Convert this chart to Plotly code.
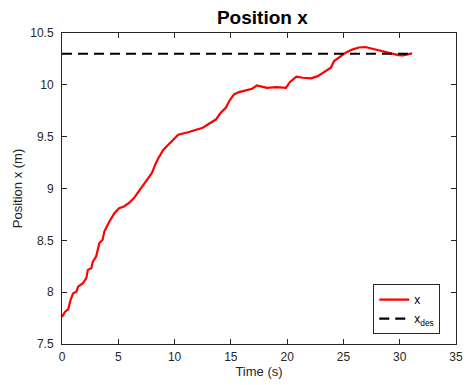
import plotly.graph_objects as go

t = [0.0, 0.26, 0.55, 0.76, 0.99, 1.28, 1.43, 1.86, 2.16, 2.3, 2.6, 2.74, 3.03, 3.18, 3.32,
     3.61, 3.76, 4.2, 4.64, 5.07, 5.51, 5.95, 6.39, 6.82, 7.26, 7.7, 7.99, 8.28, 8.57, 9.01,
     9.45, 9.89, 10.32, 11.2, 12.07, 12.5, 12.95, 13.67, 14.1, 14.55, 14.85, 15.28, 15.72,
     16.3, 16.89, 17.32, 18.2, 19.07, 19.89, 20.24, 20.82, 21.4, 22.13, 22.72, 23.3, 23.88,
     24.17, 24.61, 25.05, 25.2, 25.78, 26.36, 26.95, 27.53, 28.12, 28.7, 29.28, 29.87, 30.3,
     30.74, 31.1]
x = [7.76, 7.81, 7.835, 7.925, 7.99, 8.005, 8.053, 8.086, 8.135, 8.215, 8.231, 8.295, 8.343, 8.41, 8.473,
     8.505, 8.585, 8.68, 8.76, 8.81, 8.827, 8.86, 8.908, 8.972, 9.037, 9.1, 9.15, 9.23, 9.295, 9.375,
     9.42, 9.468, 9.518, 9.543, 9.569, 9.585, 9.617, 9.665, 9.73, 9.778, 9.842, 9.907, 9.93,
     9.946, 9.962, 9.994, 9.97, 9.978, 9.97, 10.026, 10.078, 10.068, 10.062, 10.084, 10.123, 10.165,
     10.23, 10.262, 10.294, 10.31, 10.34, 10.36, 10.365, 10.35, 10.336, 10.32, 10.304, 10.287, 10.284,
     10.294, 10.304]
t_des = [0.0, 31.1]
x_des = [10.3, 10.3]

x_ticks = [0, 5, 10, 15, 20, 25, 30, 35]
y_ticks = [7.5, 8, 8.5, 9, 9.5, 10, 10.5]
y_tick_text = ["7.5", "8", "8.5", "9", "9.5", "10", "10.5"]

FONT = "Liberation Sans, Arial"

fig = go.Figure()
fig.add_trace(go.Scatter(x=t, y=x, mode="lines", name="x",
                         line=dict(color="#ff0000", width=2.2)))
fig.add_trace(go.Scatter(x=t_des, y=x_des, mode="lines", name="x<sub>des</sub>",
                         line=dict(color="#000000", width=2.2, dash="10px,6px")))

axis_common = dict(showgrid=False, zeroline=False, showline=True, linecolor="#262626",
                   linewidth=1, mirror="ticks", ticks="inside", ticklen=5,
                   tickcolor="#262626", tickfont=dict(family=FONT, size=12, color="#262626"))

fig.update_layout(
    width=471, height=385,
    margin=dict(l=62, r=8, t=33, b=41),
    paper_bgcolor="white", plot_bgcolor="white",
    title=dict(text="<b>Position x</b>", x=0.557, xanchor="center", y=0.955, yanchor="middle",
               font=dict(family=FONT, size=19, color="black")),
    xaxis=dict(range=[0, 35], tickvals=x_ticks, ticklabelstandoff=2,
               title=dict(text="Time (s)", standoff=3,
               font=dict(family=FONT, size=13, color="#262626")), **axis_common),
    yaxis=dict(range=[7.5, 10.5], tickvals=y_ticks, ticktext=y_tick_text, ticklabelstandoff=5,
               title=dict(text="Position x (m)", standoff=4,
               font=dict(family=FONT, size=13, color="#262626")), **axis_common),
    legend=dict(x=0.79, y=0.032, xanchor="left", yanchor="bottom", bgcolor="white",
                bordercolor="#262626", borderwidth=1,
                font=dict(family=FONT, size=12, color="black"),
                tracegroupgap=0),
    showlegend=True,
)

fig.write_html("out.html")
